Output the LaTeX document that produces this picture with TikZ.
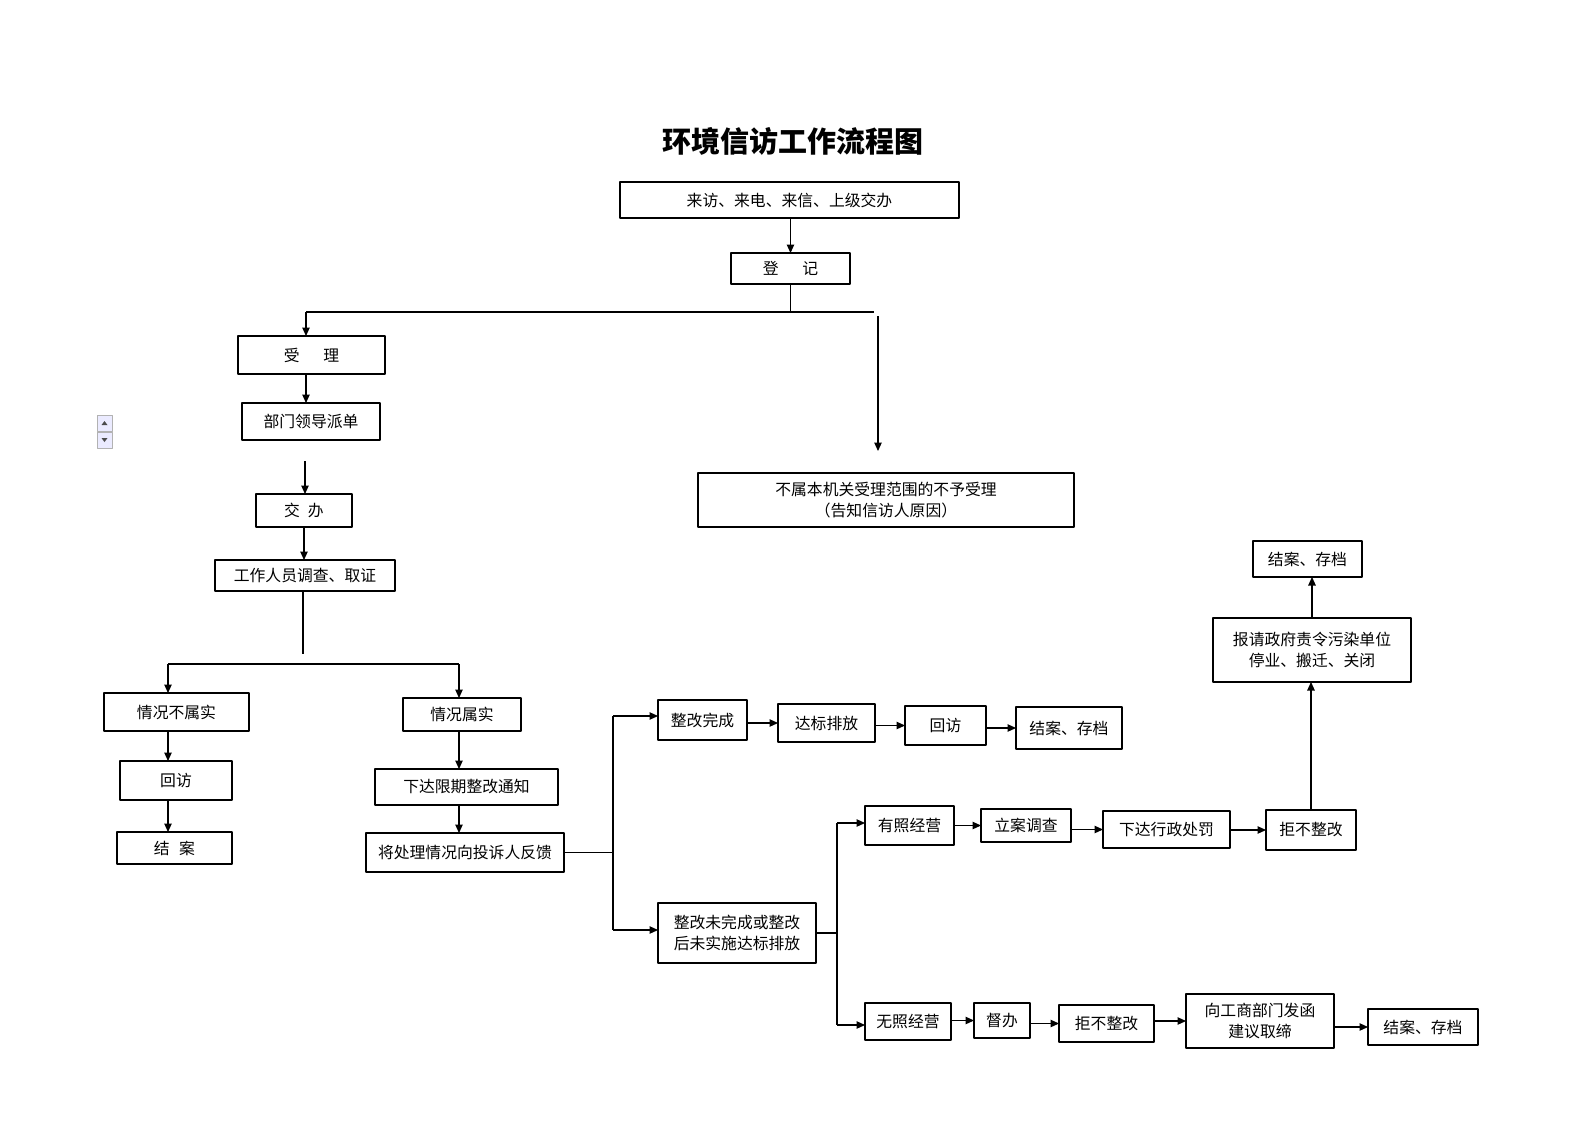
\documentclass[tikz,border=0pt]{standalone}
\usepackage{fontspec}
\setmainfont{Noto Sans CJK SC}
\usetikzlibrary{arrows.meta}
\begin{document}
\begin{tikzpicture}[x=0.02cm, y=-0.02cm, line join=round,
	font=\fontsize{9}{12}\selectfont,
	box/.style={draw, line width=0.7pt, inner sep=0pt, outer sep=0pt, align=center},
	arr/.style={-{Triangle[length=1.7mm,width=1.5mm]}, line width=0.6pt},
	lne/.style={line width=0.6pt}]
	\useasboundingbox (0,0) rectangle (1587,1122);
	\node (title) at (793,141) {\fontsize{16.5}{20}\selectfont\bfseries 环境信访工作流程图};
	\foreach \n/\a/\b/\c/\d/\t in {
		src/620/182/959/218/{来访、来电、来信、上级交办},
		reg/731/253/850/284/{登\hspace{1.5em}记},
		acc/238/336/385/374/{受\hspace{1.5em}理},
		disp/242/403/380/440/{部门领导派单},
		rej/698/473/1074/527/{不属本机关受理范围的不予受理\\（告知信访人原因）},
		asg/256/494/352/527/{交\hspace{0.5em}办},
		inv/215/560/395/591/{工作人员调查、取证},
		nf/104/693/249/731/{情况不属实},
		rv1/120/761/232/800/{回访},
		cls1/117/832/232/864/{结\hspace{0.6em}案},
		tr/403/698/521/731/{情况属实},
		ntc/375/769/558/805/{下达限期整改通知},
		fb/366/833/564/872/{将处理情况向投诉人反馈},
		done/658/700/747/740/{整改完成},
		std/778/704/875/742/{达标排放},
		rv2/905/706/986/745/{回访},
		cls2/1016/707/1122/749/{结案、存档},
		und/658/903/816/963/{整改未完成或整改\\后未实施达标排放},
		lic/865/806/954/845/{有照经营},
		case/981/809/1071/842/{立案调查},
		pen/1103/811/1230/848/{下达行政处罚},
		ref1/1266/810/1356/850/{拒不整改},
		gov/1213/618/1411/682/{报请政府责令污染单位\\停业、搬迁、关闭},
		cls3/1253/541/1362/577/{结案、存档},
		unl/865/1003/951/1040/{无照经营},
		sup/974/1003/1030/1038/{督办},
		ref2/1059/1005/1154/1042/{拒不整改},
		ltr/1186/994/1334/1048/{向工商部门发函\\建议取缔},
		cls4/1368/1009/1478/1045/{结案、存档}}
	\node[box, minimum width={(\c-\a)*0.02cm}, minimum height={(\d-\b)*0.02cm}] (\n) at ({(\a+\c)/2},{(\b+\d)/2}) {\t};
	\path
	(306,312) coordinate (jA)
	(874,312) coordinate (jB)
	(878,316) coordinate (rjTail)
	(878,451) coordinate (rjTip)
	(305,461) coordinate (dTail)
	(303,654) coordinate (kTail)
	(168,664) coordinate (jC)
	(459,664) coordinate (jD)
	(613,716) coordinate (jE)
	(613,930) coordinate (jF)
	(837,823) coordinate (jG)
	(837,1025) coordinate (jH);
	% top part
	\draw[arr] (src.south -| reg.north) -- (reg.north);
	\draw[lne] (reg.south) -- (reg.south |- jA) (jA) -- (jB);
	\draw[arr] (jA) -- (jA |- acc.north);
	\draw[arr] (rjTail) -- (rjTip);
	\draw[arr] (acc.south -| jA) -- (disp.north -| jA);
	\draw[arr] (dTail) -- (dTail |- asg.north);
	\draw[arr] (asg.south) -- (asg.south |- inv.north);
	\draw[lne] (inv.south -| kTail) -- (kTail) (jC) -- (jD);
	% left branches
	\draw[arr] (jC) -- (jC |- nf.north);
	\draw[arr] (nf.south -| jC) -- (rv1.north -| jC);
	\draw[arr] (rv1.south -| jC) -- (cls1.north -| jC);
	\draw[arr] (jD) -- (jD |- tr.north);
	\draw[arr] (tr.south -| jD) -- (ntc.north -| jD);
	\draw[arr] (ntc.south -| jD) -- (fb.north -| jD);
	\draw[lne] (fb.east) -- (fb.east -| jE) (jE) -- (jF);
	\draw[arr] (jE) -- (jE -| done.west);
	\draw[arr] (jF) -- (jF -| und.west);
	\draw[arr] (done.east |- std.west) -- (std.west);
	\draw[arr] (std.east |- rv2.west) -- (rv2.west);
	\draw[arr] (rv2.east |- cls2.west) -- (cls2.west);
	% not completed
	\draw[lne] (und.east) -- (und.east -| jG) (jG) -- (jH);
	\draw[arr] (jG) -- (jG -| lic.west);
	\draw[arr] (jH) -- (jH -| unl.west);
	\draw[arr] (lic.east |- case.west) -- (case.west);
	\draw[arr] (case.east |- pen.west) -- (pen.west);
	\draw[arr] (pen.east |- ref1.west) -- (ref1.west);
	\draw[arr] (ref1.north) -- (ref1.north |- gov.south);
	\draw[arr] (gov.north) -- (gov.north |- cls3.south);
	\draw[arr] (unl.east |- sup.west) -- (sup.west);
	\draw[arr] (sup.east |- ref2.west) -- (ref2.west);
	\draw[arr] (ref2.east |- ltr.west) -- (ltr.west);
	\draw[arr] (ltr.east |- cls4.west) -- (cls4.west);
	% spin buttons
	\draw[draw=gray!60, fill=blue!8] (97,415) rectangle (112,431) (97,432) rectangle (112,448);
	\fill[black!70] (101.5,425) -- (107.5,425) -- (104.5,421) -- cycle (101.5,438) -- (107.5,438) -- (104.5,442) -- cycle;
\end{tikzpicture}
\end{document}
